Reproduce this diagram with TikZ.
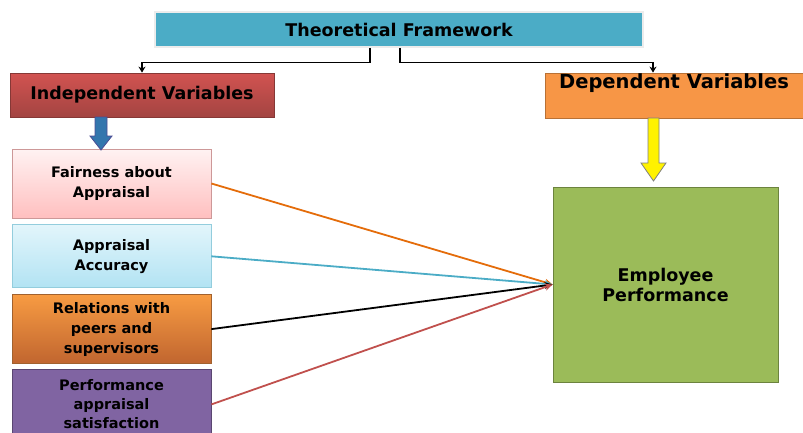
\documentclass[tikz,border=0pt]{standalone}
\usepackage{fontspec}
\setmainfont{DejaVu Sans}
\usepackage{tikz}
\usetikzlibrary{shapes, positioning}
\usetikzlibrary{calc}
\usetikzlibrary{arrows.meta}
\usetikzlibrary{shadows}

\definecolor{frameteal}{HTML}{4BACC6}
\definecolor{ivred}{HTML}{C0504D}
\definecolor{dvorange}{HTML}{F79646}
\definecolor{epgreen}{HTML}{9BBB59}
\definecolor{perfpurple}{HTML}{8064A2}
\definecolor{lineorange}{HTML}{E46C0A}
\definecolor{acctop}{HTML}{E2F5FB}
\definecolor{accbottom}{HTML}{B2E3F3}

\tikzset{
	varbox/.style={draw, rectangle, inner sep=3pt, align=center, line width=0.8pt, font=\bfseries\fontsize{14.5}{20}\selectfont, minimum width=199pt},
	headbox/.style={draw, rectangle, line width=0.8pt, font=\bfseries\fontsize{17.5}{20}\selectfont},
	feed/.style={line width=1.8pt, -{Stealth[length=8pt, width=7pt]}},
	branch/.style={line width=1.4pt, -{Stealth[length=6pt, width=7pt]}}
}

\begin{document}
\begin{tikzpicture}[x=1pt, y=-1pt]
			\useasboundingbox (0,0) rectangle (803,432);
			\node[headbox, fill=frameteal, draw=white!85!gray, line width=1.5pt, minimum width=488pt, minimum height=35pt, drop shadow={opacity=0.25, shadow xshift=1pt, shadow yshift=-1pt}] (title) at (399,29.5) {Theoretical Framework};
			\node[headbox, top color=ivred!80!red!90!white, bottom color=ivred!85!black, draw=ivred!70!black, minimum width=264pt, minimum height=44pt] (iv) at (142,95) {Independent Variables};
			\node[headbox, fill=dvorange, draw=dvorange!75!black, minimum width=258pt, minimum height=45pt, label={[anchor=north, yshift=2pt, font=\bfseries\fontsize{19.5}{20}\selectfont]north:Dependent Variables}] (dv) at (674,95.5) {};
			\node[varbox, top color=red!5!white, bottom color=red!25!white, draw=red!35!gray!60, minimum height=69pt] (fair) at (111.5,183.5) {Fairness about\\Appraisal};
			\node[varbox, top color=acctop, bottom color=accbottom, draw=frameteal!60, minimum height=63pt, below=6pt of fair] (acc) {Appraisal\\Accuracy};
			\node[varbox, top color=dvorange!95!yellow, bottom color=dvorange!75!black!90!red, draw=dvorange!65!black, minimum height=69pt, below=6pt of acc] (rel) {Relations with\\peers and\\supervisors};
			\node[varbox, fill=perfpurple, draw=perfpurple!70!black, font=\bfseries\fontsize{14.5}{19}\selectfont, minimum height=70pt, below=5pt of rel] (perf) {Performance\\appraisal\\satisfaction};
			\node[headbox, fill=epgreen, draw=epgreen!70!black, align=center, minimum width=225pt, minimum height=195pt] (ep) at (665.5,284.5) {Employee\\Performance};
			\draw[branch] ([xshift=-29pt]title.south) -- ++(0,15) -| (iv.north);
			\draw[branch] ([xshift=1pt]title.south) -- ++(0,15) -| ([xshift=-21pt]dv.north);
			\filldraw[fill=blue!45!cyan!60!black!80, draw=blue!40!black!70, line width=0.8pt] (95,117) -- (107,117) -- (107,136) -- (112,136) -- (101,150) -- (90,136) -- (95,136) -- cycle;
			\filldraw[fill=yellow, draw=gray, line width=0.8pt] (648,118) -- (659,118) -- (659,163) -- (666,163) -- (653.5,181) -- (641,163) -- (648,163) -- cycle;
			\draw[feed, lineorange] (fair.east) -- (ep.west);
			\draw[feed, frameteal] (acc.east) -- (ep.west);
			\draw[feed, black] (rel.east) -- (ep.west);
			\draw[feed, ivred] (perf.east) -- (ep.west);
		\end{tikzpicture}
\end{document}
